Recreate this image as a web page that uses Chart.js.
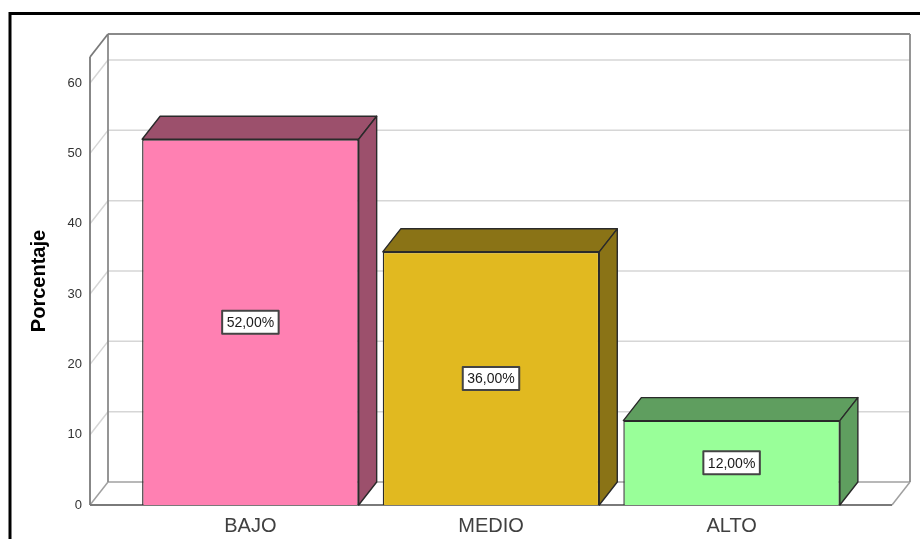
<!DOCTYPE html>
<html>
<head>
<meta charset="utf-8">
<script src="https://cdn.jsdelivr.net/npm/chart.js@4.4.1/dist/chart.umd.min.js"></script>
<style>
  html, body { margin: 0; padding: 0; background: #fff; }
  #wrap { width: 920px; height: 539px; position: relative; }
</style>
</head>
<body>
<div id="wrap"><canvas id="c" width="920" height="539"></canvas></div>
<script>
// Nivel por categoría (porcentaje de casos)
const categories = ['BAJO', 'MEDIO', 'ALTO'];
const percentages = [52, 36, 12];
const yTicks = [0, 10, 20, 30, 40, 50, 60];

// Colores: cara frontal y caras sombreadas (superior / lateral)
const frontColors = ['#ff80b2', '#e1b920', '#99ff99'];
const shadeColors = ['#9c506c', '#8a7316', '#5f9e5f'];

const FONT = "'Liberation Sans', Arial, Helvetica, sans-serif";
const DX = 18;   // profundidad 3D horizontal
const DY = 23;   // profundidad 3D vertical

function line(ctx, x1, y1, x2, y2) {
  ctx.beginPath(); ctx.moveTo(x1, y1); ctx.lineTo(x2, y2); ctx.stroke();
}
function poly(ctx, pts, fill, stroke) {
  ctx.beginPath();
  ctx.moveTo(pts[0][0], pts[0][1]);
  for (let i = 1; i < pts.length; i++) ctx.lineTo(pts[i][0], pts[i][1]);
  ctx.closePath();
  ctx.fillStyle = fill; ctx.fill();
  ctx.strokeStyle = stroke; ctx.lineWidth = 1.4; ctx.lineJoin = 'round'; ctx.stroke();
}

// Paredes, suelo y cuadrícula en perspectiva; caras 3D y etiquetas de las barras
const box3d = {
  id: 'box3d',
  beforeDraw(chart) {
    const { ctx, width, height } = chart;
    ctx.save();
    ctx.fillStyle = '#fff';
    ctx.fillRect(0, 0, width, height);
    // marco exterior
    ctx.strokeStyle = '#000'; ctx.lineWidth = 3;
    ctx.beginPath(); ctx.moveTo(10, height); ctx.lineTo(10, 13.5); ctx.lineTo(width, 13.5); ctx.stroke();
    ctx.restore();
  },
  beforeDatasetsDraw(chart) {
    const { ctx, chartArea: a, scales: { y } } = chart;
    const L = a.left, R = a.right, T = a.top, B = a.bottom;
    ctx.save();
    ctx.lineCap = 'butt';
    // cuadrícula: pared izquierda y pared del fondo
    ctx.strokeStyle = '#d6d6d6'; ctx.lineWidth = 1.5;
    yTicks.forEach(v => {
      if (v === 0) return;
      const py = y.getPixelForValue(v);
      line(ctx, L, py, L + DX, py - DY);
      line(ctx, L + DX, py - DY, R + DX, py - DY);
    });
    // suelo
    ctx.strokeStyle = '#a0a0a0'; ctx.lineWidth = 1.5;
    line(ctx, L + DX, B - DY, R + DX, B - DY);
    line(ctx, L, B, L + DX, B - DY);
    line(ctx, R, B, R + DX, B - DY);
    // aristas de la pared del fondo
    ctx.strokeStyle = '#8a8a8a'; ctx.lineWidth = 1.8;
    line(ctx, L + DX, B - DY, L + DX, T - DY);
    line(ctx, L + DX, T - DY, R + DX, T - DY);
    line(ctx, R + DX, T - DY, R + DX, B - DY);
    // eje frontal izquierdo
    ctx.strokeStyle = '#7a7a7a'; ctx.lineWidth = 1.8;
    line(ctx, L, B, L, T);
    line(ctx, L, T, L + DX, T - DY);
    line(ctx, L, B, R, B);
    ctx.restore();
  },
  afterDatasetsDraw(chart) {
    const { ctx } = chart;
    const meta = chart.getDatasetMeta(0);
    ctx.save();
    meta.data.forEach((bar, i) => {
      const { x, y, base, width } = bar.getProps(['x', 'y', 'base', 'width'], true);
      const l = x - width / 2, r = x + width / 2;
      poly(ctx, [[l, y], [l + DX, y - DY], [r + DX, y - DY], [r, y]], shadeColors[i], '#2a2a2a');
      poly(ctx, [[r, y], [r + DX, y - DY], [r + DX, base - DY], [r, base]], shadeColors[i], '#2a2a2a');

      // etiqueta de valor
      const text = percentages[i].toFixed(2).replace('.', ',') + '%';
      ctx.font = '14px ' + FONT;
      const tw = ctx.measureText(text).width;
      const bw = tw + 9, bh = 23;
      const cy = (y + base) / 2;
      ctx.fillStyle = '#fff';
      ctx.fillRect(x - bw / 2, cy - bh / 2, bw, bh);
      ctx.strokeStyle = '#444'; ctx.lineWidth = 2;
      ctx.strokeRect(x - bw / 2, cy - bh / 2, bw, bh);
      ctx.fillStyle = '#1a1a1a';
      ctx.textAlign = 'center'; ctx.textBaseline = 'middle';
      ctx.fillText(text, x, cy + 1);
    });
    ctx.restore();
  }
};

new Chart(document.getElementById('c').getContext('2d'), {
  type: 'bar',
  data: {
    datasets: [{
      data: percentages.map((v, i) => ({ x: i, y: v })),
      backgroundColor: frontColors,
      borderColor: '#2a2a2a',
      borderWidth: 1.4,
      barPercentage: 0.9,
      categoryPercentage: 1
    }]
  },
  options: {
    responsive: false,
    animation: false,
    layout: { padding: { top: 57, right: 28, left: 0, bottom: 0 } },
    plugins: { legend: { display: false }, tooltip: { enabled: false } },
    scales: {
      x: {
        type: 'linear',
        offset: false,
        min: -2 / 3,
        max: 8 / 3,
        grid: { display: false, drawTicks: false, offset: false },
        border: { display: false },
        afterBuildTicks: s => { s.ticks = categories.map((c, i) => ({ value: i })); },
        ticks: {
          callback: v => categories[v],
          font: { size: 20, family: FONT },
          color: '#404040',
          padding: 9,
          autoSkip: false,
          maxRotation: 0
        },
        afterFit: s => { s.height = 34; }
      },
      y: {
        min: 0,
        max: 63.7,
        grid: { display: false, drawTicks: false },
        border: { display: false },
        afterBuildTicks: s => { s.ticks = yTicks.map(v => ({ value: v })); },
        ticks: { font: { size: 13, family: FONT }, color: '#333', padding: 8 },
        title: {
          display: true,
          text: 'Porcentaje',
          font: { size: 20, weight: 'bold', family: FONT },
          color: '#000',
          padding: { top: 27, bottom: 0 }
        },
        afterFit: s => { s.width = 90; }
      }
    }
  },
  plugins: [box3d]
});
</script>
</body>
</html>
